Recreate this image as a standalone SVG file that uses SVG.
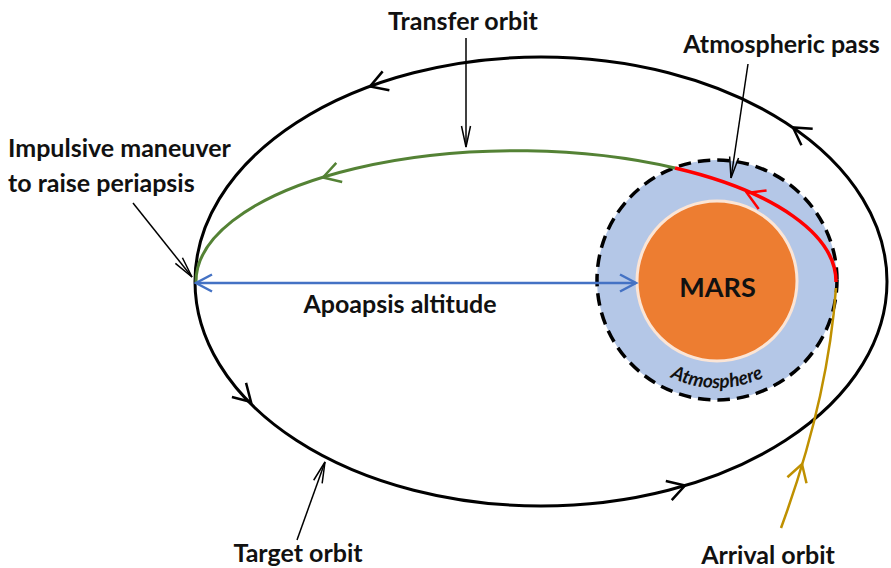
<svg xmlns="http://www.w3.org/2000/svg" width="891" height="568" viewBox="0 0 891 568">
<style>
.lbl{font-family:Lato,"Liberation Sans",sans-serif;font-weight:700;font-size:25px;fill:#111}
.thin{fill:none;stroke:#000;stroke-width:1.5}
</style>
<defs>
<marker id="ck" markerUnits="userSpaceOnUse" markerWidth="40" markerHeight="40" refX="0" refY="0" orient="auto" overflow="visible"><path d="M-17,-10 L0,0 L-17,10" fill="none" stroke="#000" stroke-width="2.5"/></marker>
<marker id="cg" markerUnits="userSpaceOnUse" markerWidth="40" markerHeight="40" refX="0" refY="0" orient="auto" overflow="visible"><path d="M-17,-10 L0,0 L-17,10" fill="none" stroke="#548235" stroke-width="2.5"/></marker>
<marker id="cr" markerUnits="userSpaceOnUse" markerWidth="40" markerHeight="40" refX="0" refY="0" orient="auto" overflow="visible"><path d="M-17,-10 L0,0 L-17,10" fill="none" stroke="#ff0000" stroke-width="2.5"/></marker>
<marker id="cy" markerUnits="userSpaceOnUse" markerWidth="40" markerHeight="40" refX="0" refY="0" orient="auto" overflow="visible"><path d="M-17,-10 L0,0 L-17,10" fill="none" stroke="#bf9000" stroke-width="2.5"/></marker>
<marker id="cb" markerUnits="userSpaceOnUse" markerWidth="40" markerHeight="40" refX="0" refY="0" orient="auto-start-reverse" overflow="visible"><path d="M-16,-8.5 L0,0 L-16,8.5" fill="none" stroke="#4472c4" stroke-width="2.5"/></marker>
<marker id="ah" markerUnits="userSpaceOnUse" markerWidth="40" markerHeight="40" refX="0" refY="0" orient="auto" overflow="visible"><path d="M-21,-4.5 L0,0 L-21,4.5" fill="none" stroke="#000" stroke-width="1.5"/></marker>
<path id="atmArc" d="M610,281 A107,107 0 0 0 824,281"/>
</defs>

<g id="target-orbit">
<ellipse cx="541" cy="281.5" rx="346" ry="224.5" fill="none" stroke="#000" stroke-width="3"/>
</g>

<g id="atmosphere">
<circle cx="717" cy="280" r="120" fill="#b4c7e7" stroke="#000" stroke-width="3.5" stroke-dasharray="12.5 7"/>
<text font-family="Lato,'Liberation Sans',sans-serif" font-weight="700" font-style="italic" font-size="19" fill="#111"><textPath href="#atmArc" startOffset="50%" text-anchor="middle">Atmosphere</textPath></text>
</g>

<g id="mars">
<circle cx="717" cy="281" r="80" fill="#ed7d31" stroke="#fbe5d6" stroke-width="3"/>
<text x="717.5" y="297" text-anchor="middle" font-family="Lato,'Liberation Sans',sans-serif" font-weight="700" font-size="27" fill="#111">MARS</text>
</g>

<g id="connectors">
<path id="transfer-green" d="M196,282 A320,131 0 0 1 675,168" fill="none" stroke="#548235" stroke-width="3"/>
<path id="atm-pass-red" d="M675,168 A320,131 0 0 1 836,282" fill="none" stroke="#ff0000" stroke-width="3.5"/>
<path id="arrival-gold" d="M836,288 Q828,400 781,528" fill="none" stroke="#bf9000" stroke-width="2.5"/>
<path id="apoapsis" d="M196,283 L636,283" fill="none" stroke="#4472c4" stroke-width="2.5" marker-start="url(#cb)" marker-end="url(#cb)"/>
<g fill="none" stroke="none">
<path d="M372.8,85.5 L370,86.5" marker-end="url(#ck)"/>
<path d="M795.5,129.2 L793,127.5" marker-end="url(#ck)"/>
<path d="M248.9,399.9 L251,402" marker-end="url(#ck)"/>
<path d="M682.1,486.5 L685,485.6" marker-end="url(#ck)"/>
<path d="M325.9,176.6 L323,177.5" marker-end="url(#cg)"/>
<path d="M749.8,194.2 L747,193" marker-end="url(#cr)"/>
<path d="M801.1,466.9 L802,464" marker-end="url(#cy)"/>
</g>
<path class="thin" d="M466,38 L466,147" marker-end="url(#ah)"/>
<path class="thin" d="M748,64 L731,178" marker-end="url(#ah)"/>
<path class="thin" d="M133,203 L192,277" marker-end="url(#ah)"/>
<path class="thin" d="M297,540 L325,462" marker-end="url(#ah)"/>
</g>

<g id="labels">
<text class="lbl" x="463" y="30" text-anchor="middle">Transfer orbit</text>
<text class="lbl" x="781.5" y="53" text-anchor="middle">Atmospheric pass</text>
<text class="lbl" x="8" y="157">Impulsive maneuver</text>
<text class="lbl" x="8" y="192">to raise periapsis</text>
<text class="lbl" x="400" y="313" text-anchor="middle">Apoapsis altitude</text>
<text class="lbl" x="298" y="562" text-anchor="middle">Target orbit</text>
<text class="lbl" x="768" y="564" text-anchor="middle">Arrival orbit</text>
</g>
</svg>
